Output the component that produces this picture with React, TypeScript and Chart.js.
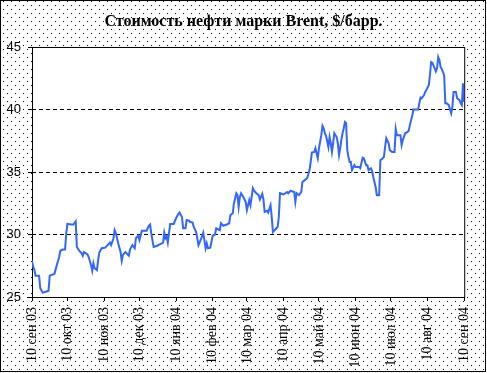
import React, { useEffect, useRef } from 'react';
import { Chart, registerables } from 'chart.js';

Chart.register(...registerables);

const TITLE = 'Стоимость нефти марки Brent, $/барр.';

// day offsets (from 10 Sep 2003) of the x-axis tick marks
const tickDays = [0, 30, 61, 91, 122, 153, 182, 213, 243, 274, 304, 335, 366];
const tickLabels = [
  '10 сен 03', '10 окт 03', '10 ноя 03', '10 дек 03', '10 янв 04', '10 фев 04', '10 мар 04',
  '10 апр 04', '10 май 04', '10 июн 04', '10 июл 04', '10 авг 04', '10 сен 04',
];

const yTicks = [25, 30, 35, 40, 45];

// days since 10 Sep 2003
const days = [
  0, 1, 2, 3, 6, 7, 9, 11, 14, 15, 16, 19, 21, 23, 24, 26, 28, 29, 30, 33, 35, 37, 38, 40, 42, 43, 44, 47, 48,
  50, 51, 52, 53, 55, 56, 57, 59, 62, 64, 66, 67, 69, 70, 71, 73, 75, 76, 77, 79, 82, 83, 85, 87, 88, 90, 91,
  93, 97, 99, 100, 101, 103, 106, 109, 111, 112, 113, 114, 115, 117, 120, 122, 124, 125, 126, 127, 128, 130,
  131, 133, 134, 136, 137, 139, 141, 143, 145, 147, 148, 149, 151, 153, 155, 156, 159, 160, 162, 165, 167,
  168, 170, 171, 173, 174, 175, 176, 177, 179, 181, 182, 184, 185, 186, 187, 188, 190, 192, 193, 195, 196,
  197, 199, 200, 202, 203, 204, 206, 208, 209, 210, 213, 216, 217, 219, 222, 223, 224, 226, 228, 229, 231,
  233, 235, 236, 237, 239, 240, 241, 242, 243, 245, 246, 247, 248, 249, 251, 252, 253, 254, 255, 256, 258,
  259, 260, 261, 262, 263, 264, 265, 266, 267, 268, 269, 270, 271, 273, 274, 277, 278, 280, 281, 283, 284,
  285, 287, 288, 289, 291, 292, 294, 295, 296, 298, 299, 300, 302, 303, 305, 307, 308, 309, 312, 313, 314,
  316, 318, 319, 320, 322, 323, 327, 328, 329, 330, 332, 333, 334, 336, 337, 338, 339, 341, 342, 343, 344,
  345, 346, 347, 348, 349, 350, 351, 353, 354, 355, 356, 357, 359, 360, 362, 363, 364, 365, 366,
];

// Brent price, $/bbl
const prices = [
  27.9, 27.4, 27.2, 26.7, 26.7, 25.7, 25.35, 25.4, 25.5, 26.7, 26.75, 26.85, 27.55, 28.2, 28.7, 28.8, 28.8,
  30.1, 30.85, 30.8, 30.8, 31.05, 29.0, 28.7, 28.5, 28.3, 28.6, 28.4, 28.2,
  27.55, 27.1, 27.7, 27.3, 27.15, 27.95, 28.55, 28.9, 28.95, 29.15, 29.35, 29.15, 29.7, 30.35, 30.1, 29.3,
  28.6, 27.9, 28.35, 28.6, 28.3, 28.8, 29.15, 28.9, 29.7, 29.9, 29.55,
  30.3, 30.3, 30.7, 30.8, 30.1, 29.0, 29.1, 29.25, 29.35, 30.15, 29.7, 29.85, 29.35, 30.85, 30.85, 31.3,
  31.65, 31.75, 31.55, 31.4, 30.5, 30.5,
  31.15, 31.1, 31.0, 30.95, 30.6, 30.2, 29.15, 29.6, 30.15, 28.9, 29.3, 28.9, 28.95, 29.9, 30.0, 30.5,
  30.35, 30.9, 30.7, 30.8, 30.9,
  31.55, 31.7, 32.5, 33.3, 33.15, 32.2, 33.0, 33.3, 33.0, 32.6, 31.95, 32.75, 32.35, 33.0, 33.7, 33.5,
  33.3, 33.15, 32.8, 33.25, 32.8,
  31.8, 31.9, 31.75, 32.35, 31.4, 30.2, 30.4, 30.6, 31.4, 33.3, 33.2, 33.4, 33.3, 33.5, 33.4, 32.6, 33.3,
  33.15, 33.4, 34.2, 34.35,
  34.5, 35.15, 35.8, 36.55, 36.6, 36.9, 36.5, 36.1, 36.9, 37.95, 38.7, 38.5, 38.1, 37.9, 37.0, 37.8, 37.3,
  36.6, 37.3, 38.1, 37.8,
  37.3, 36.35, 36.9, 37.6, 38.1, 38.5, 39.0, 38.9, 36.75, 36.2, 35.8, 35.8, 35.15, 35.55, 35.4, 35.4,
  35.3, 36.15, 36.1, 35.55, 35.55,
  35.15, 35.3, 35.1, 34.6, 33.8, 33.15, 33.15, 35.95, 36.0, 36.2, 37.0, 37.7, 37.3, 36.75, 36.6, 36.6,
  38.45, 37.95, 37.95, 37.15, 37.55,
  38.1, 38.2, 38.3, 38.75, 39.5, 40.0, 40.0, 40.5, 40.95, 40.9, 41.15, 41.4, 41.55, 41.95, 42.75, 43.8,
  43.75, 43.3, 43.05, 43.3, 44.2,
  43.95, 43.4, 43.25, 43.0, 42.75, 40.5, 40.5, 40.35, 40.0, 39.7, 40.25, 41.4, 41.4, 40.9, 40.75, 40.5,
  40.35, 42.1, 40.6,
];

const backgroundPlugin = {
  id: 'excelBackground',
  beforeDraw(chart: any) {
    const { ctx, width, height, chartArea: a } = chart;
    ctx.save();
    ctx.fillStyle = '#ffffff';
    ctx.fillRect(0, 0, width, height);
    const tile = document.createElement('canvas');
    tile.width = 8;
    tile.height = 8;
    const t = tile.getContext('2d')!;
    t.fillStyle = '#000000';
    t.fillRect(3, 1, 1, 1);
    t.fillRect(7, 5, 1, 1);
    const pat = ctx.createPattern(tile, 'repeat');
    if (pat) {
      ctx.fillStyle = pat;
      ctx.fillRect(0, 0, 486, 372);
    }
    ctx.fillStyle = '#ffffff';
    ctx.fillRect(a.left, a.top, a.right - a.left + 1, a.bottom - a.top + 1);
    ctx.strokeStyle = '#000000';
    ctx.lineWidth = 1;
    ctx.strokeRect(0.5, 0.5, 485, 371);
    ctx.strokeRect(a.left + 0.5, a.top + 0.5, a.right - a.left, a.bottom - a.top);
    ctx.restore();
  },
};

export default function App() {
  const ref = useRef<HTMLCanvasElement | null>(null);

  useEffect(() => {
    if (!ref.current) return;
    const chart = new Chart(ref.current, {
      type: 'line',
      data: {
        datasets: [
          {
            label: 'Brent',
            data: days.map((d, i) => ({ x: d, y: prices[i] })),
            borderColor: '#3366ff',
            borderWidth: 2,
            pointRadius: 0,
            fill: false,
            tension: 0,
            yAxisID: 'y',
          },
        ],
      },
      options: {
        animation: false,
        responsive: false,
        devicePixelRatio: 1,
        layout: { padding: 0 },
        plugins: {
          legend: { display: false },
          tooltip: { enabled: false },
          title: {
            display: true,
            text: TITLE,
            color: '#000',
            font: { family: 'Liberation Serif', size: 16, weight: 'bold', lineHeight: 1.2 },
            padding: { top: 12, bottom: 15.8 },
          },
        },
        scales: {
          x: {
            type: 'linear',
            min: 0,
            max: 366,
            afterBuildTicks: (s: any) => {
              s.ticks = tickDays.map((v) => ({ value: v }));
            },
            afterFit: (s: any) => {
              s.height = 76;
            },
            grid: { drawOnChartArea: false, drawTicks: true, tickLength: 4, color: '#000', lineWidth: 1 },
            border: { display: false },
            ticks: {
              autoSkip: false,
              maxRotation: 90,
              minRotation: 90,
              padding: 6,
              color: '#000',
              font: { family: 'Liberation Serif', size: 14 },
              callback: (v: any) => tickLabels[tickDays.indexOf(Number(v))],
            },
          },
          y: {
            type: 'linear',
            position: 'left',
            min: 25,
            max: 45,
            afterBuildTicks: (s: any) => {
              s.ticks = yTicks.map((v) => ({ value: v }));
            },
            afterFit: (s: any) => {
              s.width = 32;
            },
            grid: {
              color: '#000',
              lineWidth: 1,
              tickLength: 4,
              tickBorderDash: [],
            },
            border: { display: false, dash: [4, 3] },
            ticks: {
              padding: 7,
              color: '#000',
              font: { family: 'Liberation Sans', size: 13 },
            },
          },
          yRight: {
            type: 'linear',
            position: 'right',
            min: 25,
            max: 45,
            afterFit: (s: any) => {
              s.width = 15;
            },
            grid: { display: false, drawTicks: false },
            border: { display: false },
            ticks: { display: false },
          },
        },
      },
      plugins: [backgroundPlugin],
    } as any);
    return () => chart.destroy();
  }, []);

  return (
    <div style={{ position: 'fixed', left: 0, top: 0, width: 487, height: 373 }}>
      <canvas ref={ref} width={487} height={373} style={{ display: 'block' }} />
    </div>
  );
}
